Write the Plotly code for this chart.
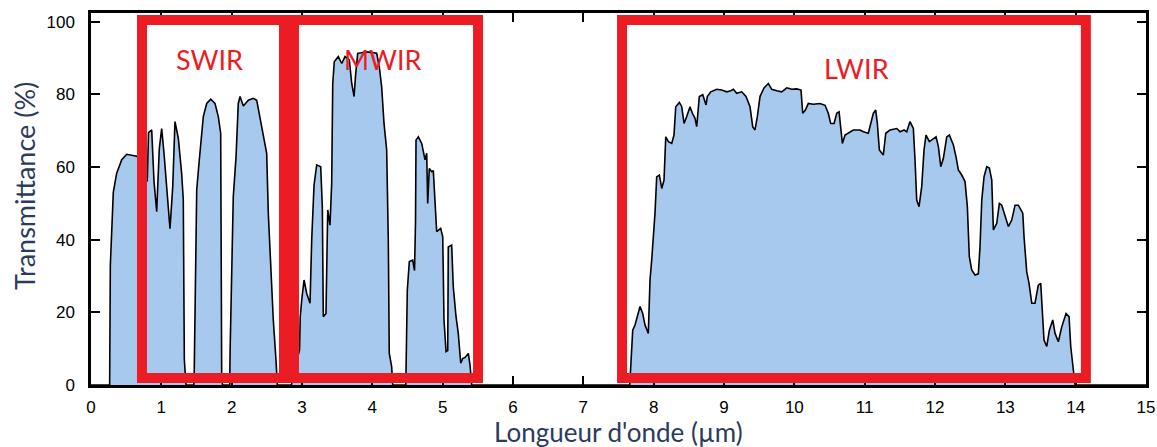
import plotly.graph_objects as go

# Wavelength (µm) and transmittance (%)
wavelength = [
    0.0, 0.265, 0.275, 0.317, 0.365, 0.437, 0.508, 0.650, 0.700, 0.760, 0.800, 0.818, 0.863, 0.896, 0.934,
    0.971, 1.005, 1.038, 1.076, 1.123, 1.162, 1.194, 1.241, 1.290, 1.312, 1.327, 1.351,
    1.462, 1.468, 1.479, 1.503, 1.540, 1.597, 1.645, 1.702, 1.763, 1.810, 1.844, 1.858, 1.870,
    1.972, 1.978, 2.001, 2.023, 2.062, 2.094, 2.119, 2.166, 2.237, 2.308, 2.356, 2.403, 2.450,
    2.498, 2.521, 2.555, 2.592, 2.630, 2.649,
    2.850, 2.900, 2.965, 2.975, 2.996, 3.029, 3.067, 3.114, 3.138, 3.171, 3.209, 3.266, 3.289,
    3.303, 3.341, 3.351, 3.366, 3.398, 3.422, 3.437, 3.459, 3.516, 3.565, 3.612, 3.673, 3.707,
    3.740, 3.764, 3.792, 3.920, 4.062, 4.099, 4.133, 4.166, 4.204, 4.227, 4.241, 4.275, 4.290,
    4.476, 4.482, 4.497, 4.526, 4.574, 4.600, 4.614, 4.621, 4.654, 4.702, 4.749, 4.773, 4.787,
    4.810, 4.844, 4.867, 4.884, 4.915, 4.972, 5.001, 5.019, 5.048, 5.072, 5.080, 5.128, 5.151,
    5.190, 5.222, 5.257, 5.285, 5.318, 5.342, 5.365, 5.389, 5.413,
    7.660, 7.670, 7.702, 7.735, 7.768, 7.806, 7.844, 7.877, 7.924, 7.948, 7.972, 7.995, 8.019,
    8.043, 8.081, 8.115, 8.147, 8.172, 8.209, 8.257, 8.289, 8.314, 8.365, 8.399, 8.432, 8.470,
    8.517, 8.550, 8.588, 8.612, 8.649, 8.698, 8.745, 8.763, 8.811, 8.897, 8.968, 9.039, 9.086,
    9.133, 9.181, 9.252, 9.313, 9.370, 9.408, 9.441, 9.474, 9.512, 9.569, 9.630, 9.679, 9.750,
    9.821, 9.892, 9.963, 10.034, 10.095, 10.119, 10.157, 10.199, 10.270, 10.365, 10.437, 10.483,
    10.517, 10.565, 10.603, 10.636, 10.660, 10.683, 10.721, 10.768, 10.839, 10.934, 10.981,
    11.052, 11.086, 11.123, 11.157, 11.180, 11.209, 11.265, 11.300, 11.361, 11.456, 11.503,
    11.560, 11.598, 11.645, 11.692, 11.716, 11.740, 11.773, 11.811, 11.844, 11.872, 11.920,
    11.976, 12.015, 12.048, 12.082, 12.119, 12.167, 12.204, 12.261, 12.299, 12.332, 12.380,
    12.427, 12.460, 12.488, 12.522, 12.569, 12.616, 12.640, 12.665, 12.697, 12.736, 12.773,
    12.807, 12.830, 12.878, 12.915, 12.949, 12.982, 13.043, 13.091, 13.138, 13.185, 13.248,
    13.266, 13.304, 13.337, 13.376, 13.422, 13.469, 13.503, 13.526, 13.550, 13.589, 13.626,
    13.674, 13.707, 13.754, 13.802, 13.863, 13.906, 13.930, 13.967, 13.991, 15.0,
]
transmittance = [
    0, 0, 33, 53, 58.3, 62, 63.5, 63, 62, 58, 56, 69.5, 70.2, 56, 47.7,
    65, 70.6, 63.8, 54.6, 43, 54.6, 72.5, 68, 58, 51, 7, 0,
    0, 4, 18, 53.7, 62, 73.9, 77.5, 78.7, 77.5, 73.9, 69.3, 3.2, 0,
    0, 9.6, 31.7, 51.8, 62.8, 77.5, 79.4, 76.8, 78.4, 78.9, 78.4, 73.9, 69.3,
    63.8, 47.2, 32.6, 17.9, 6.9, 0,
    0, 5, 9.6, 18.8, 23.4, 28.9, 25.2, 22.5, 40, 55, 60.6, 60.1, 49,
    18.8, 19.7, 36.2, 48.2, 44, 55.5, 83, 89, 90.4, 88.5, 90.4, 89.5, 83,
    79.4, 85.8, 91.3, 91.7, 91.3, 87.6, 82, 72, 64.7, 40, 8.7, 5, 0,
    0, 13.3, 26, 34, 34.4, 31.5, 45, 67.4, 68.3, 66.5, 62, 63.8, 50,
    59.6, 58.7, 59, 52.8, 42.2, 43.1, 40.8, 17.9, 9.2, 9.5, 38, 38.5, 27,
    18.8, 14.2, 6, 7.3, 7.6, 8.3, 8.7, 5.5, 0,
    0, 3.2, 15.1, 16.5, 18.8, 21.6, 19.7, 16.5, 14.2, 28.9, 34.4, 40, 47.3,
    57.3, 57.8, 54.1, 56.4, 68.3, 67, 66.5, 68.8, 76.6, 77.8, 76.6, 72, 73.9,
    76.6, 74.8, 73.4, 71.1, 79.4, 79.9, 77.1, 79.4, 80.7, 81.4, 81.2, 80.7, 80.9,
    81.4, 80.3, 80.7, 79.4, 76.6, 71.1, 70.2, 73.9, 79.4, 81.8, 83, 81.4, 81,
    80.7, 81.8, 81.4, 81.5, 81.2, 74.8, 75.7, 77.5, 77.3, 77.5, 77, 74.8,
    72, 72, 74.8, 75.2, 70.2, 66.5, 68.8, 69.3, 70.2, 70.2, 69.7,
    69.3, 72, 74.8, 75.7, 72, 64.7, 63.3, 69.3, 70.2, 70.6, 69.7,
    70.2, 69.7, 72.5, 70.6, 61.9, 50.9, 49.1, 54.6, 64.7, 68.8, 67,
    67.9, 68.3, 65.6, 60.1, 62.4, 68.3, 68.8, 66.1, 62.8, 59.2, 57.8,
    56, 49.1, 35.3, 31.7, 30.3, 30.6, 38.1, 50.9, 57.3, 60.1, 59.7,
    56.4, 42.7, 44.5, 50, 49.5, 47.3, 43.6, 45.4, 49.5, 49.5, 47.3,
    40.8, 31.2, 28, 22.5, 22.5, 27.5, 28, 21.6, 12.4, 10.6, 15.1,
    17.9, 14.2, 11.9, 16, 19.7, 18.8, 10.6, 4.1, 0, 0,
]

# Infrared bands (µm) boxed in red
band_names = ["SWIR", "MWIR", "LWIR"]
band_start = [0.725, 2.886, 7.55]
band_end = [2.744, 5.503, 14.145]
band_label_x = [1.678, 4.152, 10.89]
band_label_y = [89.5, 89.5, 87.2]

x_ticks = list(range(0, 16))
y_ticks = [0, 20, 40, 60, 80, 100]

x_title = "Longueur d'onde (µm)"
y_title = "Transmittance (%)"

RED = "#EC1C24"
TITLE_COLOR = "#2b3a5e"

fig = go.Figure()
fig.add_trace(go.Scatter(
    x=wavelength, y=transmittance, mode="lines",
    line=dict(color="black", width=1.6),
    fill="tozeroy", fillcolor="#A7C9EE",
    hoverinfo="skip", showlegend=False,
))

for name, x0, x1, lx, ly in zip(band_names, band_start, band_end, band_label_x, band_label_y):
    fig.add_shape(type="rect", xref="x", yref="y", x0=x0, x1=x1, y0=1.9, y1=100.5,
                  line=dict(color=RED, width=10), fillcolor="rgba(0,0,0,0)", layer="above")
    fig.add_annotation(x=lx, y=ly, xref="x", yref="y", text=name, showarrow=False,
                       font=dict(family="Lato", size=27, color=RED))

# Axis titles placed as annotations (paper coordinates)
fig.add_annotation(x=0.5, y=-0.127, xref="paper", yref="paper", text=x_title,
                   showarrow=False, xanchor="center", yanchor="middle",
                   font=dict(family="Lato", size=26, color=TITLE_COLOR))
fig.add_annotation(x=-0.0626, y=0.535, xref="paper", yref="paper", text=y_title,
                   showarrow=False, xanchor="center", yanchor="middle", textangle=-90,
                   font=dict(family="Lato", size=27, color=TITLE_COLOR))

axis_common = dict(
    showline=True, linecolor="black", linewidth=2.5, mirror="allticks",
    ticks="inside", ticklen=9, tickwidth=1.5, tickcolor="black",
    showgrid=False, zeroline=False, automargin=False,
    tickfont=dict(family="Liberation Sans", size=17, color="black"),
)

fig.update_xaxes(range=[0, 15], tickvals=x_ticks, ticklabelstandoff=5, **axis_common)
fig.update_yaxes(range=[0, 102.4], tickvals=y_ticks, ticklabelstandoff=10, **axis_common)

fig.update_layout(
    width=1157, height=447,
    margin=dict(l=91, r=11, t=13, b=62),
    paper_bgcolor="white", plot_bgcolor="white",
)

fig.write_html(
    "out.html",
    config={"displayModeBar": False},
    post_script="document.body.style.margin='0';document.body.style.overflow='hidden';",
)
